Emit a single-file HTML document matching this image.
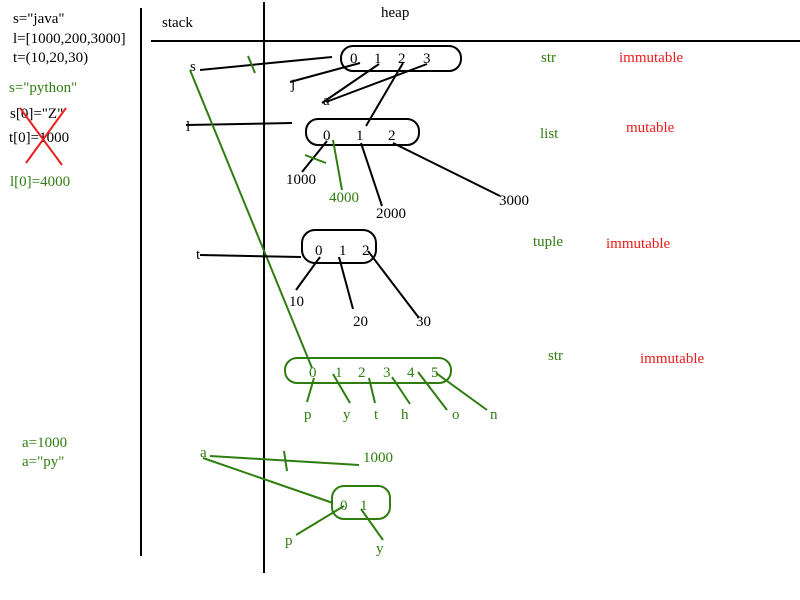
<!DOCTYPE html>
<html><head><meta charset="utf-8"><style>
body{margin:0;background:#fff}
svg{display:block;font-family:"Liberation Serif",serif;font-size:15px}
.k{stroke:#000;stroke-width:2;fill:none}
.g{stroke:#2f7d10;stroke-width:2;fill:none}
.r{stroke:#e82020;stroke-width:2;fill:none}
.tg{fill:#2f7d10}.tr{fill:#ee1c1c}
</style></head><body>
<svg width="800" height="600">
<rect width="800" height="600" fill="#fff"/>
<g>
<line class="k" x1="141" y1="8" x2="141" y2="556"/>
<line class="k" x1="264" y1="2" x2="264" y2="573"/>
<line class="k" x1="151" y1="41" x2="800" y2="41"/>
</g>
<text x="162" y="27">stack</text>
<text x="381" y="17">heap</text>
<g>
<text x="13" y="23">s="java"</text>
<text x="13" y="43">l=[1000,200,3000]</text>
<text x="13" y="62">t=(10,20,30)</text>
<text x="9" y="92" class="tg">s="python"</text>
<text x="10" y="118">s[0]="Z"</text>
<text x="9" y="142">t[0]=1000</text>
<line class="r" x1="20" y1="108" x2="62" y2="165"/>
<line class="r" x1="66" y1="108" x2="26" y2="163"/>
<text x="10" y="186" class="tg">l[0]=4000</text>
<text x="22" y="447" class="tg">a=1000</text>
<text x="22" y="466" class="tg">a="py"</text>
</g>
<g>
<rect class="k" x="341" y="46" width="120" height="25" rx="12"/>
<text x="350" y="63">0</text><text x="374" y="63">1</text><text x="398" y="63">2</text><text x="423" y="63">3</text>
<text x="190" y="71">s</text>
<line class="k" x1="200" y1="70" x2="332" y2="57"/>
<line class="g" x1="248" y1="56" x2="255" y2="73"/>
<text x="291" y="89">j</text>
<line class="k" x1="290" y1="82" x2="360" y2="63"/>
<text x="323" y="105">a</text>
<line class="k" x1="322" y1="103" x2="379" y2="64"/>
<line class="k" x1="326" y1="102" x2="427" y2="64"/>
<line class="k" x1="403" y1="63" x2="366" y2="126"/>
<text x="541" y="62" class="tg">str</text><text x="619" y="62" class="tr">immutable</text>
</g>
<g>
<rect class="k" x="306" y="119" width="113" height="26" rx="12"/>
<text x="323" y="140">0</text><text x="356" y="140">1</text><text x="388" y="140">2</text>
<text x="186" y="131">l</text>
<line class="k" x1="186" y1="125" x2="292" y2="123"/>
<line class="k" x1="327" y1="141" x2="302" y2="172"/>
<line class="g" x1="305" y1="155" x2="326" y2="163"/>
<text x="286" y="184">1000</text>
<line class="g" x1="333" y1="140" x2="342" y2="190"/>
<text x="329" y="202" class="tg">4000</text>
<line class="k" x1="361" y1="143" x2="382" y2="206"/>
<text x="376" y="218">2000</text>
<line class="k" x1="393" y1="143" x2="500" y2="196"/>
<text x="499" y="205">3000</text>
<text x="540" y="138" class="tg">list</text><text x="626" y="132" class="tr">mutable</text>
</g>
<line class="g" x1="190" y1="70" x2="312" y2="368"/>
<g>
<rect class="k" x="302" y="230" width="74" height="33" rx="13"/>
<text x="315" y="255">0</text><text x="339" y="255">1</text><text x="362" y="255">2</text>
<text x="196" y="259">t</text>
<line class="k" x1="200" y1="255" x2="301" y2="257"/>
<line class="k" x1="320" y1="257" x2="296" y2="290"/><text x="289" y="306">10</text>
<line class="k" x1="339" y1="257" x2="353" y2="309"/><text x="353" y="326">20</text>
<line class="k" x1="368" y1="251" x2="419" y2="318"/><text x="416" y="326">30</text>
<text x="533" y="246" class="tg">tuple</text><text x="606" y="248" class="tr">immutable</text>
</g>
<g>
<rect class="g" x="285" y="358" width="166" height="25" rx="12"/>
<g class="tg"><text x="309" y="377">0</text><text x="335" y="377">1</text><text x="358" y="377">2</text><text x="383" y="377">3</text><text x="407" y="377">4</text><text x="431" y="377">5</text>
<text x="304" y="419">p</text><text x="343" y="419">y</text><text x="374" y="419">t</text><text x="401" y="419">h</text><text x="452" y="419">o</text><text x="490" y="419">n</text></g>
<line class="g" x1="314" y1="378" x2="307" y2="402"/>
<line class="g" x1="333" y1="374" x2="350" y2="403"/>
<line class="g" x1="369" y1="378" x2="375" y2="403"/>
<line class="g" x1="392" y1="377" x2="410" y2="404"/>
<line class="g" x1="418" y1="372" x2="447" y2="410"/>
<line class="g" x1="436" y1="373" x2="487" y2="410"/>
<text x="548" y="360" class="tg">str</text><text x="640" y="363" class="tr">immutable</text>
</g>
<g>
<text x="200" y="457" class="tg">a</text>
<line class="g" x1="210" y1="456" x2="359" y2="465"/>
<line class="g" x1="284" y1="451" x2="287" y2="471"/>
<text x="363" y="462" class="tg">1000</text>
<line class="g" x1="203" y1="458" x2="333" y2="503"/>
<rect class="g" x="332" y="486" width="58" height="33" rx="12"/>
<text x="340" y="510" class="tg">0</text><text x="360" y="510" class="tg">1</text>
<text x="285" y="545" class="tg">p</text>
<line class="g" x1="296" y1="535" x2="344" y2="506"/>
<text x="376" y="553" class="tg">y</text>
<line class="g" x1="361" y1="509" x2="383" y2="540"/>
</g>
</svg>
</body></html>
